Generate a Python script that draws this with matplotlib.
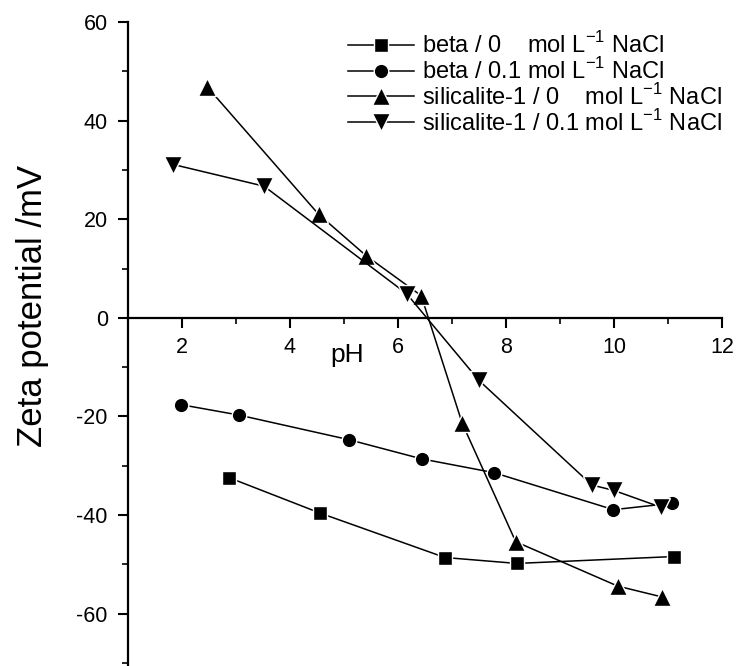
import matplotlib
matplotlib.use("Agg")
import matplotlib.pyplot as plt
from matplotlib.ticker import MultipleLocator

plt.rcParams['font.family'] = ['Liberation Sans', 'DejaVu Sans']
plt.rcParams['mathtext.fontset'] = 'custom'
plt.rcParams['mathtext.rm'] = 'Liberation Sans'
plt.rcParams['axes.unicode_minus'] = False

# zeta potential (mV) vs pH
ph_beta0 = [2.87, 4.56, 6.87, 8.20, 11.11]
zp_beta0 = [-32.4, -39.6, -48.6, -49.8, -48.4]

ph_beta01 = [1.98, 3.05, 5.09, 6.44, 7.78, 9.99, 11.07]
zp_beta01 = [-17.6, -19.7, -24.7, -28.6, -31.4, -38.9, -37.6]

ph_sil0 = [2.47, 4.53, 5.41, 6.43, 7.19, 8.18, 10.07, 10.89]
zp_sil0 = [46.8, 21.0, 12.6, 4.5, -21.4, -45.4, -54.4, -56.6]

ph_sil01 = [1.84, 3.52, 6.16, 7.50, 9.59, 10.00, 10.87]
zp_sil01 = [31.1, 26.7, 4.9, -12.7, -33.9, -35.0, -38.4]

labels = [r'beta / 0    mol L$^{\mathregular{-1}}$ NaCl',
          r'beta / 0.1 mol L$^{\mathregular{-1}}$ NaCl',
          r'silicalite-1 / 0    mol L$^{\mathregular{-1}}$ NaCl',
          r'silicalite-1 / 0.1 mol L$^{\mathregular{-1}}$ NaCl']

fig = plt.figure(figsize=(7.49, 6.66), dpi=100)
ax = fig.add_axes([128/749, 0, 594/749, 644/666])

style = dict(color='black', lw=1.1, mec='white', mew=1.0)
ax.plot(ph_beta0, zp_beta0, marker='s', ms=9.5, label=labels[0], **style)
ax.plot(ph_beta01, zp_beta01, marker='o', ms=10.5, label=labels[1], **style)
ax.plot(ph_sil0, zp_sil0, marker='^', ms=12.5, label=labels[2], **style)
ax.plot(ph_sil01, zp_sil01, marker='v', ms=12.5, label=labels[3], **style)

ax.set_xlim(1, 12)
ax.set_ylim(-70.6, 60)

ax.spines['top'].set_visible(False)
ax.spines['right'].set_visible(False)
ax.spines['bottom'].set_position(('data', 0))
ax.spines['left'].set_linewidth(1.6)
ax.spines['bottom'].set_linewidth(1.6)

ax.xaxis.set_minor_locator(MultipleLocator(1))
ax.yaxis.set_minor_locator(MultipleLocator(10))
ax.set_xticks([2, 4, 6, 8, 10, 12])
ax.set_yticks([-60, -40, -20, 0, 20, 40, 60])

ax.tick_params(which='major', direction='out', length=7.5, width=1.5,
               labelsize=15.5, pad=6)
ax.tick_params(which='minor', direction='out', length=4, width=1.2)
ax.tick_params(axis='y', which='major', pad=7)

ax.text(5.05, -7.5, 'pH', fontsize=19, ha='center', va='center')
fig.text(33/749, 1 - 306/666, 'Zeta potential /mV', fontsize=25,
         rotation=90, ha='center', va='center')

ax.legend(loc='upper left', bbox_to_anchor=(348/749, 1 - 32/666),
          bbox_transform=fig.transFigure, frameon=False, fontsize=17,
          borderpad=0, borderaxespad=0, handlelength=2.8,
          handletextpad=0.35, labelspacing=0.0)

fig.savefig('out.png', dpi=100)
